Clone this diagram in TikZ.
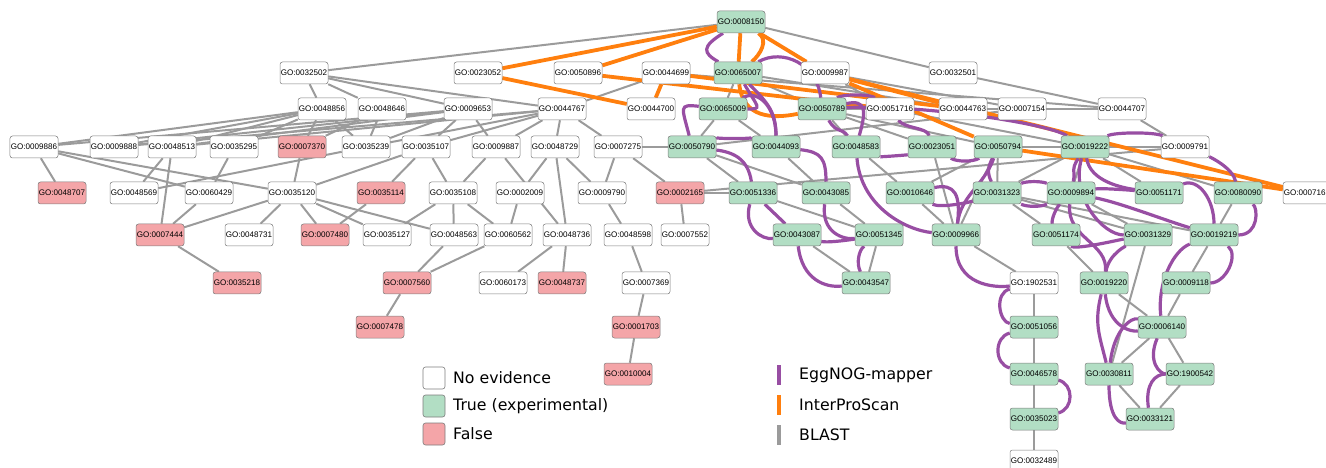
\documentclass[tikz,border=0pt]{standalone}
\usepackage{fontspec}
\newfontfamily\gofam{Liberation Sans}
\newfontfamily\legfam{DejaVu Sans}
\definecolor{gogreen}{RGB}{178,222,196}
\definecolor{gopink}{RGB}{244,165,168}
\definecolor{bordergray}{RGB}{125,125,125}
\definecolor{blastgray}{RGB}{155,155,155}
\definecolor{iprorange}{RGB}{255,127,14}
\definecolor{eggpurple}{RGB}{152,78,163}
\pgfdeclarelayer{edges}
\pgfsetlayers{edges,main}
\tikzset{
  gobox/.style={draw=bordergray, line width=0.5bp, rounded corners=2.5bp, minimum width=48bp, minimum height=22bp, inner sep=0pt, font=\gofam\fontsize{8.1}{9}\selectfont},
  gonone/.style={gobox, fill=white},
  gotrue/.style={gobox, fill=gogreen},
  gofalse/.style={gobox, fill=gopink},
  blast/.style={draw=blastgray, line width=2bp},
  ipr/.style={draw=iprorange, line width=3.8bp},
  egg/.style={draw=eggpurple, line width=3.2bp},
  legbox/.style={draw=bordergray, line width=0.6bp, rounded corners=2.5bp, minimum width=22bp, minimum height=22bp, inner sep=0pt},
  legtext/.style={anchor=west, inner sep=0pt, font=\legfam\fontsize{15.8}{18}\selectfont}
}
\newcommand\GOn[4]{\node[#1] (g#2) at (#3,#4) {GO:#2};}
\begin{document}
\begin{tikzpicture}[x=1bp,y=-1bp]
\useasboundingbox (0,0) rectangle (1326,468);
% row 0
\GOn{gotrue}{0008150}{741}{22}
% row 1
\GOn{gonone}{0032502}{304}{73}
\GOn{gonone}{0023052}{478}{73}
\GOn{gonone}{0050896}{578}{73}
\GOn{gonone}{0044699}{666}{73}
\GOn{gotrue}{0065007}{738}{73}
\GOn{gonone}{0009987}{825}{73}
\GOn{gonone}{0032501}{953}{73}
% row 2
\GOn{gonone}{0048856}{322}{109}
\GOn{gonone}{0048646}{382}{109}
\GOn{gonone}{0009653}{468}{109}
\GOn{gonone}{0044767}{562}{109}
\GOn{gonone}{0044700}{651}{109}
\GOn{gotrue}{0065009}{723}{109}
\GOn{gotrue}{0050789}{822}{109}
\GOn{gonone}{0051716}{890}{109}
\GOn{gonone}{0044763}{963}{109}
\GOn{gonone}{0007154}{1022}{109}
\GOn{gonone}{0044707}{1122}{109}
% row 3
\GOn{gonone}{0009886}{34}{147}
\GOn{gonone}{0009888}{114}{147}
\GOn{gonone}{0048513}{172}{147}
\GOn{gonone}{0035295}{234}{147}
\GOn{gofalse}{0007370}{302}{147}
\GOn{gonone}{0035239}{366}{147}
\GOn{gonone}{0035107}{426}{147}
\GOn{gonone}{0009887}{496}{147}
\GOn{gonone}{0048729}{555}{147}
\GOn{gonone}{0007275}{618}{147}
\GOn{gotrue}{0050790}{692}{147}
\GOn{gotrue}{0044093}{776}{147}
\GOn{gotrue}{0048583}{856}{147}
\GOn{gotrue}{0023051}{932}{147}
\GOn{gotrue}{0050794}{998}{147}
\GOn{gotrue}{0019222}{1085}{147}
\GOn{gonone}{0009791}{1185}{147}
% row 4
\GOn{gofalse}{0048707}{62}{193}
\GOn{gonone}{0048569}{134}{193}
\GOn{gonone}{0060429}{209}{193}
\GOn{gonone}{0035120}{292}{193}
\GOn{gofalse}{0035114}{381}{193}
\GOn{gonone}{0035108}{453}{193}
\GOn{gonone}{0002009}{520}{193}
\GOn{gonone}{0009790}{602}{193}
\GOn{gofalse}{0002165}{680}{193}
\GOn{gotrue}{0051336}{753}{193}
\GOn{gotrue}{0043085}{826}{193}
\GOn{gotrue}{0010646}{910}{193}
\GOn{gotrue}{0031323}{997}{193}
\GOn{gotrue}{0009894}{1071}{193}
\GOn{gotrue}{0051171}{1159}{193}
\GOn{gotrue}{0080090}{1238}{193}
\GOn{gonone}{0007165}{1307}{193}
% row 5
\GOn{gofalse}{0007444}{160}{235}
\GOn{gonone}{0048731}{249}{235}
\GOn{gofalse}{0007480}{325}{235}
\GOn{gonone}{0035127}{387}{235}
\GOn{gonone}{0048563}{454}{235}
\GOn{gonone}{0060562}{508}{235}
\GOn{gonone}{0048736}{567}{235}
\GOn{gonone}{0048598}{628}{235}
\GOn{gonone}{0007552}{685}{235}
\GOn{gotrue}{0043087}{797}{235}
\GOn{gotrue}{0051345}{879}{235}
\GOn{gotrue}{0009966}{956}{235}
\GOn{gotrue}{0051174}{1056}{235}
\GOn{gotrue}{0031329}{1148}{235}
\GOn{gotrue}{0019219}{1214}{235}
% row 6
\GOn{gofalse}{0035218}{237}{283}
\GOn{gofalse}{0007560}{407}{283}
\GOn{gonone}{0060173}{503}{283}
\GOn{gofalse}{0048737}{562}{283}
\GOn{gonone}{0007369}{646}{283}
\GOn{gotrue}{0043547}{866}{283}
\GOn{gonone}{1902531}{1034}{283}
\GOn{gotrue}{0019220}{1104}{283}
\GOn{gotrue}{0009118}{1186}{283}
% row 7
\GOn{gofalse}{0007478}{380}{327}
\GOn{gofalse}{0001703}{636}{327}
\GOn{gotrue}{0051056}{1034}{327}
\GOn{gotrue}{0006140}{1162}{327}
% row 8
\GOn{gofalse}{0010004}{628}{374}
\GOn{gotrue}{0046578}{1034}{374}
\GOn{gotrue}{0030811}{1109}{374}
\GOn{gotrue}{1900542}{1190}{374}
% row 9
\GOn{gotrue}{0035023}{1034}{419}
\GOn{gotrue}{0033121}{1150}{419}
% row 10
\GOn{gonone}{0032489}{1034}{461}

\begin{pgfonlayer}{edges}
% BLAST
\foreach \a/\b in {0008150/0032502,0008150/0032501,0008150/0065007,
 0032502/0048856,0032502/0048646,0032502/0009653,0032502/0044767,
 0044699/0044767,0044699/0044707,0065007/0065009,0065007/0050789,0065007/0044763,
 0009987/0051716,0009987/0044763,0009987/0007154,0032501/0044707,
 0044763/0044707,0007154/0044707,0044707/0009791,0044763/0007154,0050789/0051716,
 0048856/0009886,0048856/0009888,0048856/0048513,0048856/0035295,0048856/0007370,0048856/0035239,
 0048646/0007370,0048646/0035239,
 0009653/0009886,0009653/0009888,0009653/0048513,0009653/0035239,0009653/0035107,0009653/0009887,
 0044767/0048513,0044767/0035239,0044767/0035107,0044767/0009887,0044767/0048729,0044767/0007275,0044767/0009888,
 0009886/0048707,0009886/0035120,0009886/0060429,0048513/0048569,0048513/0007444,0035295/0060429,
 0007370/0035120,0035239/0048569,0035107/0035120,0035107/0035114,0035107/0035108,
 0009887/0035108,0009887/0048736,0048729/0002009,0048729/0048736,0048729/0009790,
 0007275/0009790,0007275/0002165,0007275/0050790,
 0060429/0007444,0035120/0007444,0035120/0048731,0035120/0007480,0035120/0035127,0035120/0048563,
 0035114/0007480,0035108/0048563,0035108/0060562,0035108/0035127,0002009/0060562,0009790/0048598,
 0002165/0007552,0002165/0051336,0002165/0009791,
 0048563/0007560,0060562/0007560,0048736/0060173,0048736/0048737,0048598/0007369,0007444/0035218,
 0007560/0007478,0007369/0001703,0001703/0010004,
 0065009/0050790,0065009/0044093,0007154/0050790,0050790/0051336,0050790/0043085,0044093/0043085,
 0050789/0048583,0050789/0050794,0050789/0023051,0051716/0019222,0048583/0010646,0023051/0009966,
 0050794/0010646,0050794/0031323,0050794/0009966,0050794/0019222,
 0019222/0031323,0019222/0009894,0019222/0051171,0019222/0080090,0019222/0009791,0080090/0019219,
 0051336/0043087,0051336/0051345,0043085/0051345,0043087/0043547,0051345/0043547,0010646/0009966,
 0031323/0051174,0031323/0031329,0031323/0019219,0009894/0031329,0051174/0019220,0031329/0030811,
 0019219/0009118,0009966/1902531,0009118/0006140,0019220/0006140,0006140/0030811,0006140/1900542,
 0030811/0033121,1900542/0033121,1902531/0051056,0051056/0046578,0046578/0035023,0035023/0032489}
 {\draw[blast] (g\a) -- (g\b);}
% InterProScan
\foreach \a/\b in {0008150/0023052,0008150/0050896,0023052/0044700,0044699/0044700,
 0008150/0065007,0008150/0009987,0050896/0051716,0044699/0044763,0009987/0044763,
 0009987/0007165,0009987/0050794,0050794/0007165}
 {\draw[ipr] (g\a) -- (g\b);}
\draw[ipr] (g0008150) .. controls +(28,18) and +(22,-18) .. (g0065007);
\draw[ipr] (g0065007) .. controls +(5,45) and +(-50,10) .. (g0050789);
% EggNOG-mapper
\draw[egg] (g0008150) .. controls +(-40,25) and +(-35,-20) .. (g0065007);
\draw[egg] (g0065007) .. controls +(45,-25) and +(-5,-45) .. (g0050789);
\draw[egg] (g0065007) .. controls +(20,35) and +(40,0) .. (g0065009);
\draw[egg] (g0065007) .. controls +(30,30) and +(0,-35) .. (g0044093);
\draw[egg] (g0065009) .. controls +(-45,-5) and +(-10,-40) .. (g0050790);
\draw[egg] (g0065009) .. controls +(35,-20) and +(0,-40) .. (g0044093);
\draw[egg] (g0050790) .. controls +(20,-8) and +(-20,-8) .. (g0044093);
\draw[egg] (g0050790) .. controls +(40,5) and +(-5,-35) .. (g0051336);
\draw[egg] (g0044093) .. controls +(45,5) and +(0,-35) .. (g0043085);
\draw[egg] (g0051336) .. controls +(-10,35) and +(-35,5) .. (g0043087);
\draw[egg] (g0051336) -- (g0043087);
\draw[egg] (g0043085) .. controls +(-5,40) and +(-35,5) .. (g0051345);
\draw[egg] (g0043087) .. controls +(30,8) and +(-30,5) .. (g0051345);
\draw[egg] (g0043087) .. controls +(5,45) and +(-40,5) .. (g0043547);
\draw[egg] (g0051345) .. controls +(-20,15) and +(-10,-20) .. (g0043547);
\draw[egg] (g0050789) .. controls +(20,-15) and +(-20,-15) .. (g0051716);
\draw[egg] (g0050789) .. controls +(45,-10) and +(10,-35) .. (g0048583);
\draw[egg] (g0050789) .. controls +(15,25) and +(-15,-20) .. (g0048583);
\draw[egg] (g0051716) .. controls +(15,20) and +(-5,-20) .. (g0023051);
\draw[egg] (g0048583) .. controls +(25,10) and +(-25,8) .. (g0023051);
\draw[egg] (g0048583) .. controls +(5,60) and +(-50,-5) .. (g0009966);
\draw[egg] (g0023051) .. controls +(25,15) and +(-25,15) .. (g0050794);
\draw[egg] (g0050794) .. controls +(-15,40) and +(5,-40) .. (g0009966);
\draw[egg] (g0050794) .. controls +(-10,20) and +(-10,-20) .. (g0031323);
\draw[egg] (g0010646) .. controls +(30,15) and +(-30,10) .. (g0031323);
\draw[egg] (g0010646) .. controls +(45,-10) and +(5,-40) .. (g0009966);
\draw[egg] (g0031323) .. controls +(30,-12) and +(-30,-12) .. (g0009894);
\draw[egg] (g0031323) .. controls +(30,14) and +(-30,14) .. (g0009894);
\draw[egg] (g0050789) .. controls +(90,-5) and +(-40,-25) .. (g0019222);
\draw[egg] (g0019222) .. controls +(-15,25) and +(5,-25) .. (g0009894);
\draw[egg] (g0019222) .. controls +(5,35) and +(-35,-5) .. (g0051171);
\draw[egg] (g0019222) .. controls +(-15,50) and +(-45,0) .. (g0031329);
\draw[egg] (g0019222) .. controls +(30,-15) and +(-30,-15) .. (g0009791);
\draw[egg] (g0009791) .. controls +(25,10) and +(-5,-25) .. (g0080090);
\draw[egg] (g0051171) .. controls +(40,-15) and +(0,-35) .. (g0019219);
\draw[egg] (g0009894) .. controls +(50,10) and +(-50,-15) .. (g0019219);
\draw[egg] (g0009894) .. controls +(30,-5) and +(-30,-3) .. (g0051171);
\draw[egg] (g0080090) .. controls +(20,15) and +(45,0) .. (g0019219);
\draw[egg] (g0019219) .. controls +(25,20) and +(40,0) .. (g0009118);
\draw[egg] (g0019219) .. controls +(-40,15) and +(-5,-45) .. (g0006140);
\draw[egg] (g0009894) .. controls +(-15,15) and +(-5,-15) .. (g0051174);
\draw[egg] (g0051174) .. controls +(20,15) and +(-30,5) .. (g0031329);
\draw[egg] (g0031329) .. controls +(-20,10) and +(5,-30) .. (g0019220);
\draw[egg] (g0009894) .. controls +(-5,45) and +(5,-40) .. (g0019220);
\draw[egg] (g0019220) .. controls +(-10,40) and +(-10,-40) .. (g0030811);
\draw[egg] (g0019220) .. controls +(5,45) and +(-30,5) .. (g0006140);
\draw[egg] (g0030811) .. controls +(5,-45) and +(-30,-10) .. (g0006140);
\draw[egg] (g0006140) .. controls +(-15,35) and +(-30,0) .. (g1900542);
\draw[egg] (g1900542) .. controls +(-35,0) and +(-5,-35) .. (g0033121);
\draw[egg] (g0030811) .. controls +(0,45) and +(-30,5) .. (g0033121);
\draw[egg] (g0009966) .. controls +(0,50) and +(-40,5) .. (g1902531);
\draw[egg] (g1902531) .. controls +(-40,10) and +(-35,-5) .. (g0051056);
\draw[egg] (g0051056) .. controls +(-40,10) and +(-40,-10) .. (g0046578);
\draw[egg] (g0046578) .. controls +(40,10) and +(40,-10) .. (g0035023);
\end{pgfonlayer}

% legend
\node[legbox, fill=white] (lb1) at (434,378) {};
\node[legbox, fill=gogreen] (lb2) at (434,406) {};
\node[legbox, fill=gopink] (lb3) at (434,434) {};
\node[legtext] (lt1) at (453,378) {No evidence};
\node[legtext] (lt2) at (453,406) {True (experimental)};
\node[legtext] (lt3) at (453,434) {False};
\coordinate (la1) at (779,365); \coordinate (la2) at (779,385);
\coordinate (lo1) at (779,395); \coordinate (lo2) at (779,415);
\coordinate (lg1) at (779,425); \coordinate (lg2) at (779,445);
\draw[draw=eggpurple, line width=3.5bp] (la1) -- (la2);
\draw[draw=iprorange, line width=3.5bp] (lo1) -- (lo2);
\draw[draw=blastgray, line width=3.5bp] (lg1) -- (lg2);
\node[legtext] (lt4) at (799,375) {EggNOG-mapper};
\node[legtext] (lt5) at (799,405) {InterProScan};
\node[legtext] (lt6) at (799,435) {BLAST};
\end{tikzpicture}
\end{document}
